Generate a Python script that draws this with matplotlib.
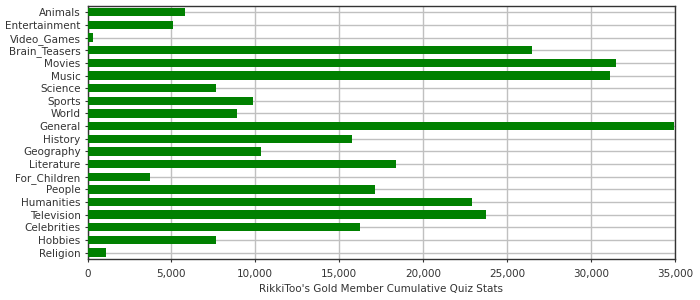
import matplotlib
matplotlib.use('Agg')
import matplotlib.pyplot as plt
from matplotlib.ticker import FuncFormatter

categories = ['Animals', 'Entertainment', 'Video_Games', 'Brain_Teasers', 'Movies',
              'Music', 'Science', 'Sports', 'World', 'General', 'History',
              'Geography', 'Literature', 'For_Children', 'People', 'Humanities',
              'Television', 'Celebrities', 'Hobbies', 'Religion']
scores = [5800, 5100, 330, 26500, 31500, 31150, 7650, 9870, 8900, 34950, 15770,
          10350, 18400, 3730, 17150, 22900, 23750, 16250, 7650, 1100]
xticks = [0, 5000, 10000, 15000, 20000, 25000, 30000, 35000]

fig = plt.figure(figsize=(7, 3), dpi=100)
ax = fig.add_axes([0.125, 0.137, 0.839, 0.843])

ypos = range(len(categories))
ax.barh(ypos, scores, height=0.66, color='#008000', zorder=3)

ax.set_yticks(list(ypos))
ax.set_yticklabels(categories)
ax.set_ylim(len(categories) - 0.5, -0.5)
ax.set_xlim(0, 35000)
ax.set_xticks(xticks)
ax.xaxis.set_major_formatter(FuncFormatter(lambda v, p: f'{int(v):,}'))

ax.grid(True, color='#c0c0c0', linewidth=1.0, zorder=0)
ax.set_axisbelow(True)
for s in ax.spines.values():
    s.set_color('#333333')
    s.set_linewidth(1.0)
ax.tick_params(axis='both', labelsize=7.5, colors='#333333', length=2, width=0.8)
ax.tick_params(axis='y', pad=3)
ax.tick_params(axis='x', pad=5)

ax.set_xlabel("RikkiToo's Gold Member Cumulative Quiz Stats", fontsize=7.5, color='#333333', labelpad=4)

fig.savefig('out.png', dpi=100)
